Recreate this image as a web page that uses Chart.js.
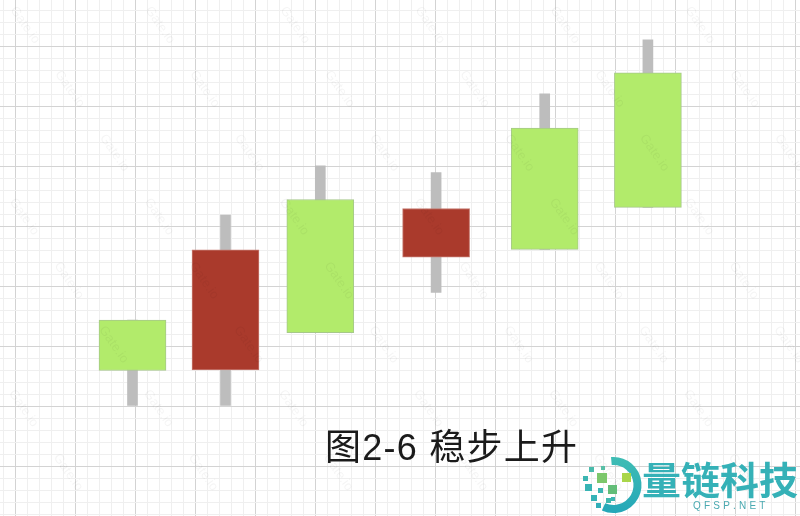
<!DOCTYPE html>
<html><head><meta charset="utf-8">
<script src="https://cdn.jsdelivr.net/npm/chart.js@4/dist/chart.umd.min.js"></script>
<style>html,body{margin:0;padding:0;background:#fff;overflow:hidden}canvas{display:block}</style>
</head><body>
<canvas id="c" width="800" height="516"></canvas>
<script>
// ---- data (x = session position, y = price units) ----
const positions = [9.25, 17.0, 24.9, 34.55, 43.6, 52.2];
const opens  = [13.0, 23.05, 16.15, 26.5, 23.1, 26.6];
const closes = [17.2, 13.05, 27.25, 22.45, 33.2, 37.8];
const highs  = [17.2, 25.95, 30.05, 29.5, 36.05, 40.55];
const lows   = [10.1, 10.1, 16.15, 19.5, 23.1, 26.6];
const xTicks = Array.from({length: 67}, (_, i) => i - 1);
const yTicks = Array.from({length: 43}, (_, i) => i + 1);
const caption = '图2-6 稳步上升';
const brandName = '量链科技';
const brandSite = 'QFSP.NET';
const watermark = 'Gate.io';

const UP = '#b2eb6b', DOWN = '#aa3a2c';

const gridColor = ctx => (ctx.tick && Math.abs(ctx.tick.value % 5) < 1e-6) ? '#d3d3d3' : '#efefef';

const decor = {
  id: 'decor',
  afterDatasetsDraw(chart) {
    const ctx = chart.ctx;
    ctx.save();
    ctx.fillStyle = 'rgba(0,0,0,0.045)';
    ctx.font = '13px "Liberation Sans", sans-serif';
    const ang = 55 * Math.PI / 180;
    const dx = Math.cos(ang) * 78, dy = Math.sin(ang) * 78;
    for (let line = -6; line < 8; line++) {
      for (let k = -2; k < 10; k++) {
        const x = line * 135 + k * dx + 10;
        const y = k * dy + 10;
        if (x < -60 || x > 860 || y < -60 || y > 560) continue;
        ctx.save();
        ctx.translate(x, y);
        ctx.rotate(ang);
        ctx.fillText(watermark, 0, 0);
        ctx.restore();
      }
    }
    ctx.restore();
  },
  afterDraw(chart) {
    const ctx = chart.ctx;
    ctx.save();
    // caption
    ctx.fillStyle = '#1b1b1b';
    ctx.font = '36px "Liberation Sans", "Noto Sans CJK SC", sans-serif';
    ctx.textBaseline = 'middle';
    const w = ctx.measureText(caption).width;
    const n = [...caption].length;
    const gap = Math.max(0, (252 - w) / (n - 1));
    let cx = 325;
    for (const ch of caption) {
      ctx.fillText(ch, cx, 450);
      cx += ctx.measureText(ch).width + gap;
    }

    // logo ring
    const g = ctx.createLinearGradient(613, 457, 613, 513);
    g.addColorStop(0, '#3fbdb4');
    g.addColorStop(1, '#24a7b8');
    ctx.strokeStyle = g;
    ctx.lineWidth = 8;
    ctx.beginPath();
    ctx.arc(613.5, 485, 24, -1.66, 2.0);
    ctx.stroke();
    // logo squares
    const sq = [[622,473,9,'#a9d64a'],[597,473,10,'#7cc76b'],[608,485,9,'#63bd78'],
      [589,467,5,'#49bbab'],[583,476,5,'#3cb6b2'],[585,484,7,'#38b4b4'],[598,488,5,'#3ab5b3'],
      [591,495,6,'#35b2b6'],[596,503,5,'#31afb8'],[606,498,5,'#40b8ae'],[601,466,4,'#58bfa6'],[611,497,4,'#3cb6b2']];
    sq.forEach(s => { ctx.fillStyle = s[3]; ctx.fillRect(s[0], s[1], s[2], s[2]); });
    // brand text
    ctx.fillStyle = '#35b1b7';
    ctx.font = 'bold 38px "Noto Sans CJK SC", sans-serif';
    ctx.textBaseline = 'middle';
    const bw = ctx.measureText(brandName).width;
    ctx.save();
    ctx.translate(642, 480);
    ctx.scale(156 / bw, 1);
    ctx.fillText(brandName, 0, 0);
    ctx.restore();
    ctx.fillStyle = '#4aa9b0';
    ctx.font = '10px "Liberation Sans", sans-serif';
    let x = 693;
    for (const ch of brandSite) {
      ctx.fillText(ch, x, 506);
      x += ctx.measureText(ch).width + 3.2;
    }
    ctx.restore();
  }
};

new Chart(document.getElementById('c'), {
  type: 'bar',
  data: {
    datasets: [
      {
        label: 'wick',
        data: positions.map((x, i) => ({x, y: [lows[i], highs[i]]})),
        backgroundColor: '#bdbdbd',
        borderWidth: 0,
        barThickness: 10,
        grouped: false,
        order: 2
      },
      {
        label: 'body',
        data: positions.map((x, i) => ({x, y: [opens[i], closes[i]]})),
        backgroundColor: positions.map((_, i) => closes[i] >= opens[i] ? UP : DOWN),
        borderColor: positions.map((_, i) => closes[i] >= opens[i] ? '#a6c88a' : '#c57a70'),
        borderWidth: 1,
        borderSkipped: false,
        barThickness: 67,
        grouped: false,
        order: 1
      }
    ]
  },
  options: {
    responsive: false,
    animation: false,
    layout: {padding: 0},
    plugins: {legend: {display: false}, tooltip: {enabled: false}},
    scales: {
      x: {
        type: 'linear', min: -21.5 / 12, max: (800 - 21.5) / 12, offset: false,
        ticks: {display: false}, border: {display: false},
        grid: {drawTicks: false, color: gridColor, lineWidth: 1},
        afterBuildTicks: s => { s.ticks = xTicks.map(v => ({value: v})); }
      },
      y: {
        type: 'linear', min: 0.875, max: 43.875,
        ticks: {display: false}, border: {display: false},
        grid: {drawTicks: false, color: gridColor, lineWidth: 1},
        afterBuildTicks: s => { s.ticks = yTicks.map(v => ({value: v})); }
      }
    }
  },
  plugins: [decor]
});
</script>
</body></html>
